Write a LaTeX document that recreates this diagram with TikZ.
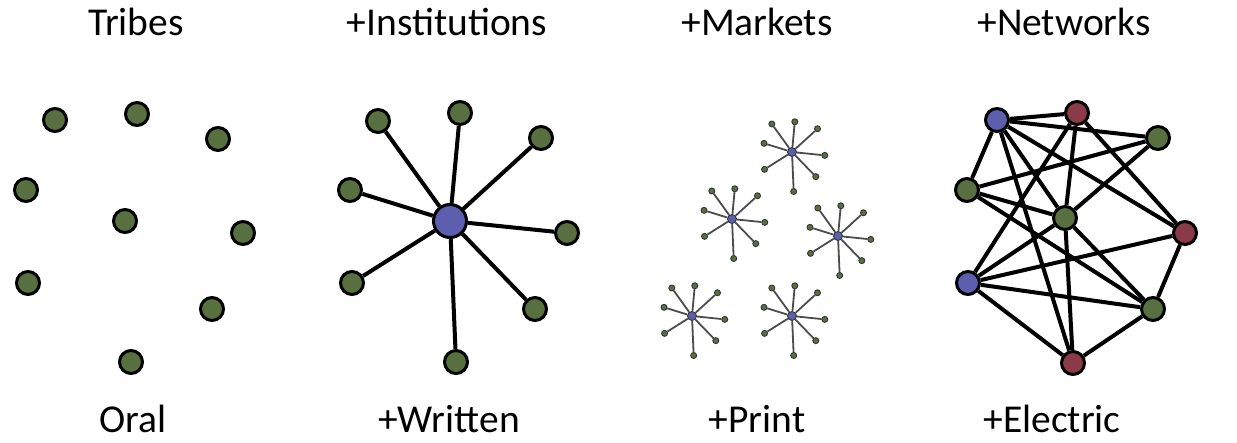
\documentclass[tikz,border=0pt]{standalone}
\usepackage{fontspec}
\setmainfont{Carlito}
\usepackage{tikz}

\definecolor{nodegreen}{HTML}{587040}
\definecolor{nodeblue}{HTML}{5B5FAE}
\definecolor{nodered}{HTML}{8B3A47}

\tikzset{
	person/.style={circle, draw=black, line width=3pt, fill=nodegreen, minimum size=23pt, inner sep=0pt},
	hub/.style={person, fill=nodeblue, minimum size=33pt},
	smallleaf/.style={circle, draw=black!80, line width=0.9pt, fill=nodegreen, minimum size=6pt, inner sep=0pt},
	smallhub/.style={smallleaf, fill=nodeblue, minimum size=9pt},
	tie/.style={line width=4pt},
	thintie/.style={line width=1.8pt, draw=black!70},
	caption/.style={font=\fontsize{39.5}{41}\selectfont, anchor=base}
}

\begin{document}
\begin{tikzpicture}[x=1pt, y=-1pt]
		\useasboundingbox (0, 0) rectangle (1237, 442);

		% labels
		\node[caption] (t1) at (136, 35) {Tribes};
		\node[caption] (t2) at (447, 35) {+Institutions};
		\node[caption] (t3) at (757, 35) {+Markets};
		\node[caption] (t4) at (1064, 35) {+Networks};
		\node[caption] (b1) at (133, 432) {Oral};
		\node[caption] (b2) at (449, 432) {+Written};
		\node[caption] (b3) at (757, 432) {+Print};
		\node[caption] (b4) at (1052, 432) {+Electric};

		% tribes
		\foreach \x/\y [count=\i] in {55/120, 137/114, 218/139, 26/190, 125/221, 243/233, 28/283, 212/309, 131/362} {
			\node[person] (tribe\i) at (\x, \y) {};
		}

		% institutions
		\node[hub] (inst) at (450, 221) {};
		\foreach \dx/\dy [count=\i] in {-72/-100, 10/-108, 91/-83, -100/-31, 117/12, -98/62, 85/88, 6/141} {
			\node[person] (inst\i) at (450 + \dx, 221 + \dy) {};
			\draw[tie] (inst) -- (inst\i);
		}

		% markets
		\foreach \cx/\cy [count=\s] in {792/152, 732/219, 838/236, 692/316, 792/316} {
			\node[smallhub] (mkt\s) at (\cx, \cy) {};
			\foreach \dx/\dy [count=\i] in {-72/-100, 10/-108, 91/-83, -100/-31, 117/12, -98/62, 85/88, 6/141} {
				\node[smallleaf] (mkt\s-\i) at (\cx + 0.28*\dx, \cy + 0.28*\dy) {};
				\draw[thintie] (mkt\s) -- (mkt\s-\i);
			}
		}

		% networks
		\node[person, fill=nodeblue] (na) at (997, 120) {};
		\node[person, fill=nodered] (nb) at (1077, 113) {};
		\node[person] (nc) at (1158, 138) {};
		\node[person] (nd) at (967, 190) {};
		\node[person] (ne) at (1065, 218) {};
		\node[person, fill=nodered] (nf) at (1185, 233) {};
		\node[person, fill=nodeblue] (ng) at (968, 283) {};
		\node[person] (nh) at (1153, 309) {};
		\node[person, fill=nodered] (ni) at (1073, 363) {};

		\foreach \a/\b in {na/nb, na/nc, na/nd, na/ne, na/nf, na/ni, nb/ne, nb/nf, nb/ng, nc/nd, nc/ne, nd/ne, nd/nh, ne/ng, ne/nh, ne/ni, nf/ng, nf/nh, ng/nh, ng/ni, nh/ni} {
			\draw[tie] (\a) -- (\b);
		}
	\end{tikzpicture}
\end{document}
